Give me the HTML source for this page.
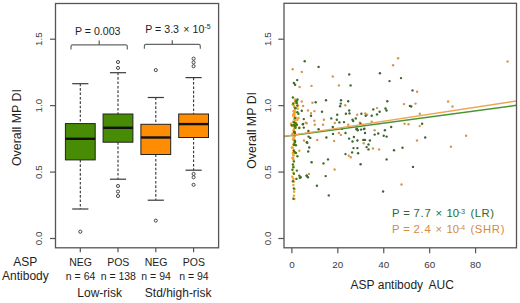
<!DOCTYPE html>
<html><head><meta charset="utf-8"><style>
html,body{margin:0;padding:0;background:#fff;}
body{width:520px;height:303px;overflow:hidden;}
svg{display:block;font-family:"Liberation Sans", sans-serif;}
</style></head><body>
<svg width="520" height="303" viewBox="0 0 520 303" font-family='"Liberation Sans", sans-serif'>
<rect x="55.5" y="3.5" width="163.10" height="244.30" fill="none" stroke="#555" stroke-width="1.3"/>
<line x1="50" y1="238.50" x2="55.5" y2="238.50" stroke="#555" stroke-width="1.2"/>
<text x="0" y="0" transform="translate(41.6,238.50) rotate(-90)" text-anchor="middle" font-size="9.9" fill="#3a3a3a">0.0</text>
<line x1="50" y1="172.07" x2="55.5" y2="172.07" stroke="#555" stroke-width="1.2"/>
<text x="0" y="0" transform="translate(41.6,172.07) rotate(-90)" text-anchor="middle" font-size="9.9" fill="#3a3a3a">0.5</text>
<line x1="50" y1="105.63" x2="55.5" y2="105.63" stroke="#555" stroke-width="1.2"/>
<text x="0" y="0" transform="translate(41.6,105.63) rotate(-90)" text-anchor="middle" font-size="9.9" fill="#3a3a3a">1.0</text>
<line x1="50" y1="39.20" x2="55.5" y2="39.20" stroke="#555" stroke-width="1.2"/>
<text x="0" y="0" transform="translate(41.6,39.20) rotate(-90)" text-anchor="middle" font-size="9.9" fill="#3a3a3a">1.5</text>
<text transform="translate(21.4,127.6) rotate(-90)" text-anchor="middle" font-size="12.4" fill="#1e1e1e">Overall MP DI</text>
<line x1="80.3" y1="83.7" x2="80.3" y2="123.6" stroke="#333" stroke-width="1.1" stroke-dasharray="2.6 1.8"/>
<line x1="80.3" y1="159.9" x2="80.3" y2="209.0" stroke="#333" stroke-width="1.1" stroke-dasharray="2.6 1.8"/>
<line x1="72.2" y1="83.7" x2="88.39999999999999" y2="83.7" stroke="#3a3a3a" stroke-width="1.2"/>
<line x1="72.2" y1="209.0" x2="88.39999999999999" y2="209.0" stroke="#3a3a3a" stroke-width="1.2"/>
<rect x="65.40" y="123.6" width="29.8" height="36.30" fill="#478c04" stroke="#222" stroke-width="1.0"/>
<line x1="65.40" y1="138.8" x2="95.20" y2="138.8" stroke="#111" stroke-width="2.4"/>
<circle cx="80.3" cy="231.7" r="1.55" fill="none" stroke="#333" stroke-width="0.9"/>
<line x1="118.0" y1="72.7" x2="118.0" y2="114.0" stroke="#333" stroke-width="1.1" stroke-dasharray="2.6 1.8"/>
<line x1="118.0" y1="142.2" x2="118.0" y2="179.2" stroke="#333" stroke-width="1.1" stroke-dasharray="2.6 1.8"/>
<line x1="109.9" y1="72.7" x2="126.1" y2="72.7" stroke="#3a3a3a" stroke-width="1.2"/>
<line x1="109.9" y1="179.2" x2="126.1" y2="179.2" stroke="#3a3a3a" stroke-width="1.2"/>
<rect x="103.10" y="114.0" width="29.8" height="28.20" fill="#478c04" stroke="#222" stroke-width="1.0"/>
<line x1="103.10" y1="127.8" x2="132.90" y2="127.8" stroke="#111" stroke-width="2.4"/>
<circle cx="118.0" cy="62.0" r="1.55" fill="none" stroke="#333" stroke-width="0.9"/>
<circle cx="118.0" cy="67.9" r="1.55" fill="none" stroke="#333" stroke-width="0.9"/>
<circle cx="118.0" cy="186.0" r="1.55" fill="none" stroke="#333" stroke-width="0.9"/>
<circle cx="118.0" cy="191.6" r="1.55" fill="none" stroke="#333" stroke-width="0.9"/>
<circle cx="118.0" cy="196.0" r="1.55" fill="none" stroke="#333" stroke-width="0.9"/>
<line x1="155.8" y1="97.5" x2="155.8" y2="124.3" stroke="#333" stroke-width="1.1" stroke-dasharray="2.6 1.8"/>
<line x1="155.8" y1="154.5" x2="155.8" y2="200.2" stroke="#333" stroke-width="1.1" stroke-dasharray="2.6 1.8"/>
<line x1="147.70000000000002" y1="97.5" x2="163.9" y2="97.5" stroke="#3a3a3a" stroke-width="1.2"/>
<line x1="147.70000000000002" y1="200.2" x2="163.9" y2="200.2" stroke="#3a3a3a" stroke-width="1.2"/>
<rect x="140.90" y="124.3" width="29.8" height="30.20" fill="#ff8d04" stroke="#222" stroke-width="1.0"/>
<line x1="140.90" y1="137.5" x2="170.70" y2="137.5" stroke="#111" stroke-width="2.4"/>
<circle cx="155.8" cy="70.1" r="1.55" fill="none" stroke="#333" stroke-width="0.9"/>
<circle cx="155.8" cy="220.6" r="1.55" fill="none" stroke="#333" stroke-width="0.9"/>
<line x1="193.6" y1="77.6" x2="193.6" y2="114.0" stroke="#333" stroke-width="1.1" stroke-dasharray="2.6 1.8"/>
<line x1="193.6" y1="137.5" x2="193.6" y2="170.2" stroke="#333" stroke-width="1.1" stroke-dasharray="2.6 1.8"/>
<line x1="185.5" y1="77.6" x2="201.7" y2="77.6" stroke="#3a3a3a" stroke-width="1.2"/>
<line x1="185.5" y1="170.2" x2="201.7" y2="170.2" stroke="#3a3a3a" stroke-width="1.2"/>
<rect x="178.70" y="114.0" width="29.8" height="23.50" fill="#ff8d04" stroke="#222" stroke-width="1.0"/>
<line x1="178.70" y1="124.1" x2="208.50" y2="124.1" stroke="#111" stroke-width="2.4"/>
<circle cx="193.6" cy="58.6" r="1.55" fill="none" stroke="#333" stroke-width="0.9"/>
<circle cx="193.6" cy="62.4" r="1.55" fill="none" stroke="#333" stroke-width="0.9"/>
<circle cx="193.6" cy="66.2" r="1.55" fill="none" stroke="#333" stroke-width="0.9"/>
<circle cx="193.6" cy="173.9" r="1.55" fill="none" stroke="#333" stroke-width="0.9"/>
<circle cx="193.6" cy="177.3" r="1.55" fill="none" stroke="#333" stroke-width="0.9"/>
<circle cx="193.6" cy="184.8" r="1.55" fill="none" stroke="#333" stroke-width="0.9"/>
<path d="M71.0,49.5 L71.0,46.5 Q71.0,44.9 72.6,44.9 L125.7,44.9 Q127.3,44.9 127.3,46.5 L127.3,49.5" fill="none" stroke="#666" stroke-width="1.2"/><line x1="99.2" y1="44.9" x2="99.2" y2="40.6" stroke="#666" stroke-width="1.3"/>
<path d="M144.4,48.7 L144.4,45.9 Q144.4,44.3 146.0,44.3 L198.70000000000002,44.3 Q200.3,44.3 200.3,45.9 L200.3,48.7" fill="none" stroke="#666" stroke-width="1.2"/><line x1="172.3" y1="44.3" x2="172.3" y2="40.3" stroke="#666" stroke-width="1.3"/>
<text x="75" y="34.6" font-size="10.6" fill="#1e1e1e">P = 0.003</text>
<g font-size="10.6" fill="#1e1e1e"><text x="145.3" y="32.6">P = 3.3</text><text x="183.3" y="32.6">&#215;</text><text x="192.6" y="32.6">10</text><text x="204.4" y="29.4" font-size="6.9">-5</text></g>
<line x1="80.3" y1="247.8" x2="80.3" y2="252.2" stroke="#555" stroke-width="1.2"/>
<text x="80.6" y="265.7" text-anchor="middle" font-size="10.5" fill="#1e1e1e">NEG</text>
<text x="80.6" y="280" text-anchor="middle" font-size="10.5" fill="#1e1e1e">n = 64</text>
<line x1="118.0" y1="247.8" x2="118.0" y2="252.2" stroke="#555" stroke-width="1.2"/>
<text x="118.3" y="265.7" text-anchor="middle" font-size="10.5" fill="#1e1e1e">POS</text>
<text x="118.3" y="280" text-anchor="middle" font-size="10.5" fill="#1e1e1e">n = 138</text>
<line x1="155.8" y1="247.8" x2="155.8" y2="252.2" stroke="#555" stroke-width="1.2"/>
<text x="156.10000000000002" y="265.7" text-anchor="middle" font-size="10.5" fill="#1e1e1e">NEG</text>
<text x="156.10000000000002" y="280" text-anchor="middle" font-size="10.5" fill="#1e1e1e">n = 94</text>
<line x1="193.6" y1="247.8" x2="193.6" y2="252.2" stroke="#555" stroke-width="1.2"/>
<text x="193.9" y="265.7" text-anchor="middle" font-size="10.5" fill="#1e1e1e">POS</text>
<text x="193.9" y="280" text-anchor="middle" font-size="10.5" fill="#1e1e1e">n = 94</text>
<text x="99.7" y="296.7" text-anchor="middle" font-size="12" fill="#1e1e1e">Low-risk</text>
<text x="178.2" y="296.7" text-anchor="middle" font-size="12" fill="#1e1e1e">Std/high-risk</text>
<text x="25.2" y="265.5" text-anchor="middle" font-size="12" fill="#1e1e1e">ASP</text>
<text x="25.4" y="280" text-anchor="middle" font-size="12" fill="#1e1e1e">Antibody</text>
<g fill="#f0a035"><circle cx="295.1" cy="99.6" r="1.25"/><circle cx="295.1" cy="100.8" r="1.25"/><circle cx="296.0" cy="102.0" r="1.25"/><circle cx="295.6" cy="103.1" r="1.25"/><circle cx="292.6" cy="104.6" r="1.25"/><circle cx="298.0" cy="105.8" r="1.25"/><circle cx="294.1" cy="107.0" r="1.25"/><circle cx="297.6" cy="108.7" r="1.25"/><circle cx="294.7" cy="109.7" r="1.25"/><circle cx="293.7" cy="111.3" r="1.25"/><circle cx="295.3" cy="112.3" r="1.25"/><circle cx="294.3" cy="113.9" r="1.25"/><circle cx="293.5" cy="115.4" r="1.25"/><circle cx="293.5" cy="116.1" r="1.25"/><circle cx="298.5" cy="117.9" r="1.25"/><circle cx="294.4" cy="119.2" r="1.25"/><circle cx="295.2" cy="120.5" r="1.25"/><circle cx="293.3" cy="121.7" r="1.25"/><circle cx="296.1" cy="122.9" r="1.25"/><circle cx="291.0" cy="123.8" r="1.25"/><circle cx="291.9" cy="125.7" r="1.25"/><circle cx="293.7" cy="126.6" r="1.25"/><circle cx="295.4" cy="127.5" r="1.25"/><circle cx="294.1" cy="129.0" r="1.25"/><circle cx="293.5" cy="130.5" r="1.25"/><circle cx="294.3" cy="131.3" r="1.25"/><circle cx="294.4" cy="132.3" r="1.25"/><circle cx="292.5" cy="133.6" r="1.25"/><circle cx="292.9" cy="135.4" r="1.25"/><circle cx="294.7" cy="136.2" r="1.25"/><circle cx="293.7" cy="137.7" r="1.25"/><circle cx="293.5" cy="138.9" r="1.25"/><circle cx="293.0" cy="139.5" r="1.25"/><circle cx="294.4" cy="140.6" r="1.25"/><circle cx="294.4" cy="141.8" r="1.25"/><circle cx="294.2" cy="143.0" r="1.25"/><circle cx="293.4" cy="144.4" r="1.25"/><circle cx="294.5" cy="145.0" r="1.25"/><circle cx="291.9" cy="147.6" r="1.25"/><circle cx="293.6" cy="150.2" r="1.25"/><circle cx="293.5" cy="152.8" r="1.25"/><circle cx="293.6" cy="155.4" r="1.25"/><circle cx="293.1" cy="158.0" r="1.25"/><circle cx="293.3" cy="165.8" r="1.25"/><circle cx="293.4" cy="178.8" r="1.25"/><circle cx="293.9" cy="181.4" r="1.25"/><circle cx="294.3" cy="189.2" r="1.25"/><circle cx="294.1" cy="191.8" r="1.25"/><circle cx="299.2" cy="127.6" r="1.25"/><circle cx="293.9" cy="105.4" r="1.25"/><circle cx="293.9" cy="111.3" r="1.25"/><circle cx="294.9" cy="112.3" r="1.25"/><circle cx="293.4" cy="114.3" r="1.25"/><circle cx="294.4" cy="115.8" r="1.25"/><circle cx="295.9" cy="117.8" r="1.25"/><circle cx="297.4" cy="119.8" r="1.25"/><circle cx="292.9" cy="147.8" r="1.25"/><circle cx="299.3" cy="150.7" r="1.25"/><circle cx="292.9" cy="153.0" r="1.25"/><circle cx="293.4" cy="155.0" r="1.25"/><circle cx="292.4" cy="158.0" r="1.25"/><circle cx="293.4" cy="159.4" r="1.25"/><circle cx="293.4" cy="172.8" r="1.25"/><circle cx="292.4" cy="176.8" r="1.25"/><circle cx="293.4" cy="185.0" r="1.25"/><circle cx="293.9" cy="195.8" r="1.25"/><circle cx="294.3" cy="198.9" r="1.25"/></g>
<g fill="#d6964e"><circle cx="292.7" cy="69.3" r="1.2"/><circle cx="301.8" cy="71.9" r="1.2"/><circle cx="332.8" cy="76.5" r="1.2"/><circle cx="299.6" cy="87.0" r="1.2"/><circle cx="311.5" cy="85.9" r="1.2"/><circle cx="338.9" cy="85.4" r="1.2"/><circle cx="398.1" cy="58.3" r="1.2"/><circle cx="393.1" cy="65.2" r="1.2"/><circle cx="417.1" cy="91.7" r="1.2"/><circle cx="507.6" cy="61.5" r="1.2"/><circle cx="301.8" cy="101.5" r="1.2"/><circle cx="303.1" cy="105.9" r="1.2"/><circle cx="312.4" cy="102.8" r="1.2"/><circle cx="308.0" cy="110.5" r="1.2"/><circle cx="314.4" cy="111.1" r="1.2"/><circle cx="311.0" cy="113.1" r="1.2"/><circle cx="314.4" cy="120.8" r="1.2"/><circle cx="323.9" cy="119.7" r="1.2"/><circle cx="306.7" cy="123.3" r="1.2"/><circle cx="314.8" cy="124.7" r="1.2"/><circle cx="323.0" cy="124.7" r="1.2"/><circle cx="334.8" cy="123.0" r="1.2"/><circle cx="345.3" cy="105.2" r="1.2"/><circle cx="377.0" cy="108.1" r="1.2"/><circle cx="357.2" cy="114.7" r="1.2"/><circle cx="365.3" cy="113.4" r="1.2"/><circle cx="367.1" cy="114.7" r="1.2"/><circle cx="359.8" cy="122.6" r="1.2"/><circle cx="371.7" cy="121.7" r="1.2"/><circle cx="348.2" cy="124.7" r="1.2"/><circle cx="374.6" cy="130.3" r="1.2"/><circle cx="403.9" cy="104.1" r="1.2"/><circle cx="415.5" cy="103.6" r="1.2"/><circle cx="448.1" cy="101.5" r="1.2"/><circle cx="452.5" cy="106.5" r="1.2"/><circle cx="419.8" cy="113.8" r="1.2"/><circle cx="404.6" cy="123.7" r="1.2"/><circle cx="408.5" cy="124.3" r="1.2"/><circle cx="419.8" cy="126.1" r="1.2"/><circle cx="304.0" cy="140.5" r="1.2"/><circle cx="317.2" cy="139.9" r="1.2"/><circle cx="338.9" cy="133.0" r="1.2"/><circle cx="340.9" cy="134.9" r="1.2"/><circle cx="334.1" cy="140.9" r="1.2"/><circle cx="348.8" cy="155.7" r="1.2"/><circle cx="350.8" cy="157.3" r="1.2"/><circle cx="363.7" cy="143.2" r="1.2"/><circle cx="372.9" cy="148.5" r="1.2"/><circle cx="379.1" cy="149.4" r="1.2"/><circle cx="417.0" cy="140.5" r="1.2"/><circle cx="450.9" cy="146.7" r="1.2"/><circle cx="466.1" cy="135.7" r="1.2"/><circle cx="309.0" cy="173.9" r="1.2"/><circle cx="334.6" cy="169.5" r="1.2"/><circle cx="401.5" cy="184.5" r="1.2"/><circle cx="305.8" cy="122.7" r="1.2"/></g>
<g fill="#3f7c14"><circle cx="297.5" cy="99.5" r="1.2"/><circle cx="296.9" cy="100.7" r="1.2"/><circle cx="293.3" cy="103.5" r="1.2"/><circle cx="297.2" cy="105.5" r="1.2"/><circle cx="295.4" cy="108.1" r="1.2"/><circle cx="294.9" cy="117.9" r="1.2"/><circle cx="291.8" cy="125.3" r="1.2"/><circle cx="294.6" cy="126.1" r="1.2"/><circle cx="295.5" cy="127.7" r="1.2"/><circle cx="294.1" cy="131.9" r="1.2"/><circle cx="294.6" cy="132.3" r="1.2"/><circle cx="295.0" cy="133.7" r="1.2"/><circle cx="295.0" cy="140.8" r="1.2"/><circle cx="295.1" cy="142.0" r="1.2"/><circle cx="294.4" cy="144.4" r="1.2"/><circle cx="292.9" cy="97.5" r="1.2"/><circle cx="295.9" cy="101.4" r="1.2"/><circle cx="296.9" cy="102.9" r="1.2"/><circle cx="295.4" cy="107.9" r="1.2"/><circle cx="297.4" cy="112.3" r="1.2"/><circle cx="298.4" cy="113.8" r="1.2"/><circle cx="293.9" cy="122.2" r="1.2"/><circle cx="295.4" cy="123.2" r="1.2"/><circle cx="296.9" cy="124.7" r="1.2"/><circle cx="293.9" cy="125.0" r="1.2"/><circle cx="295.9" cy="125.5" r="1.2"/><circle cx="299.3" cy="128.0" r="1.2"/><circle cx="293.9" cy="144.8" r="1.2"/><circle cx="295.9" cy="145.3" r="1.2"/><circle cx="293.9" cy="150.7" r="1.2"/><circle cx="294.9" cy="152.2" r="1.2"/><circle cx="295.9" cy="153.0" r="1.2"/><circle cx="297.4" cy="156.2" r="1.2"/><circle cx="293.9" cy="161.4" r="1.2"/><circle cx="292.9" cy="164.4" r="1.2"/><circle cx="293.4" cy="167.3" r="1.2"/><circle cx="292.4" cy="169.8" r="1.2"/><circle cx="296.9" cy="170.6" r="1.2"/><circle cx="293.9" cy="173.8" r="1.2"/><circle cx="299.3" cy="175.6" r="1.2"/><circle cx="299.8" cy="177.7" r="1.2"/><circle cx="296.4" cy="178.9" r="1.2"/><circle cx="292.9" cy="181.2" r="1.2"/><circle cx="293.9" cy="188.4" r="1.2"/><circle cx="293.4" cy="198.8" r="1.2"/></g>
<g fill="#3d6630"><circle cx="304.7" cy="61.2" r="1.2"/><circle cx="318.6" cy="66.9" r="1.2"/><circle cx="349.2" cy="74.4" r="1.2"/><circle cx="379.9" cy="73.2" r="1.2"/><circle cx="389.5" cy="81.1" r="1.2"/><circle cx="401.0" cy="78.1" r="1.2"/><circle cx="297.2" cy="80.1" r="1.2"/><circle cx="293.9" cy="83.0" r="1.2"/><circle cx="295.1" cy="84.7" r="1.2"/><circle cx="350.6" cy="85.4" r="1.2"/><circle cx="412.5" cy="90.4" r="1.2"/><circle cx="315.7" cy="102.3" r="1.2"/><circle cx="326.0" cy="100.2" r="1.2"/><circle cx="341.0" cy="100.2" r="1.2"/><circle cx="340.8" cy="103.6" r="1.2"/><circle cx="340.1" cy="106.3" r="1.2"/><circle cx="322.0" cy="111.8" r="1.2"/><circle cx="311.0" cy="115.8" r="1.2"/><circle cx="301.8" cy="110.7" r="1.2"/><circle cx="303.8" cy="119.1" r="1.2"/><circle cx="331.3" cy="118.4" r="1.2"/><circle cx="337.2" cy="114.7" r="1.2"/><circle cx="336.8" cy="119.7" r="1.2"/><circle cx="303.1" cy="124.0" r="1.2"/><circle cx="339.4" cy="122.4" r="1.2"/><circle cx="303.8" cy="127.6" r="1.2"/><circle cx="318.6" cy="129.2" r="1.2"/><circle cx="332.8" cy="127.0" r="1.2"/><circle cx="308.4" cy="131.0" r="1.2"/><circle cx="348.2" cy="101.2" r="1.2"/><circle cx="387.3" cy="101.2" r="1.2"/><circle cx="373.3" cy="109.4" r="1.2"/><circle cx="385.5" cy="108.5" r="1.2"/><circle cx="386.5" cy="110.5" r="1.2"/><circle cx="379.6" cy="111.8" r="1.2"/><circle cx="349.2" cy="110.5" r="1.2"/><circle cx="345.9" cy="113.8" r="1.2"/><circle cx="349.5" cy="113.4" r="1.2"/><circle cx="361.4" cy="113.8" r="1.2"/><circle cx="365.7" cy="115.8" r="1.2"/><circle cx="371.7" cy="115.8" r="1.2"/><circle cx="377.0" cy="114.4" r="1.2"/><circle cx="352.5" cy="119.7" r="1.2"/><circle cx="353.2" cy="121.0" r="1.2"/><circle cx="355.8" cy="118.4" r="1.2"/><circle cx="360.5" cy="123.7" r="1.2"/><circle cx="344.0" cy="122.1" r="1.2"/><circle cx="356.5" cy="129.2" r="1.2"/><circle cx="357.8" cy="130.3" r="1.2"/><circle cx="361.1" cy="129.6" r="1.2"/><circle cx="364.4" cy="128.7" r="1.2"/><circle cx="384.9" cy="130.3" r="1.2"/><circle cx="391.2" cy="127.0" r="1.2"/><circle cx="342.0" cy="128.7" r="1.2"/><circle cx="409.9" cy="105.9" r="1.2"/><circle cx="411.2" cy="106.5" r="1.2"/><circle cx="422.1" cy="123.7" r="1.2"/><circle cx="308.6" cy="136.6" r="1.2"/><circle cx="310.3" cy="137.9" r="1.2"/><circle cx="326.4" cy="137.5" r="1.2"/><circle cx="333.0" cy="133.9" r="1.2"/><circle cx="345.5" cy="133.0" r="1.2"/><circle cx="349.1" cy="138.6" r="1.2"/><circle cx="353.9" cy="137.0" r="1.2"/><circle cx="352.5" cy="141.5" r="1.2"/><circle cx="357.4" cy="140.5" r="1.2"/><circle cx="307.3" cy="142.8" r="1.2"/><circle cx="309.2" cy="147.5" r="1.2"/><circle cx="308.2" cy="151.5" r="1.2"/><circle cx="353.5" cy="148.1" r="1.2"/><circle cx="357.4" cy="148.1" r="1.2"/><circle cx="352.1" cy="152.4" r="1.2"/><circle cx="358.1" cy="153.3" r="1.2"/><circle cx="345.5" cy="154.1" r="1.2"/><circle cx="328.0" cy="159.4" r="1.2"/><circle cx="311.6" cy="162.3" r="1.2"/><circle cx="323.5" cy="163.4" r="1.2"/><circle cx="356.8" cy="128.7" r="1.2"/><circle cx="363.9" cy="129.1" r="1.2"/><circle cx="365.0" cy="133.0" r="1.2"/><circle cx="374.7" cy="134.6" r="1.2"/><circle cx="378.2" cy="133.5" r="1.2"/><circle cx="383.7" cy="135.7" r="1.2"/><circle cx="386.6" cy="136.6" r="1.2"/><circle cx="363.3" cy="139.9" r="1.2"/><circle cx="365.0" cy="139.9" r="1.2"/><circle cx="369.9" cy="140.5" r="1.2"/><circle cx="368.5" cy="144.5" r="1.2"/><circle cx="366.6" cy="147.1" r="1.2"/><circle cx="368.5" cy="149.4" r="1.2"/><circle cx="394.0" cy="150.2" r="1.2"/><circle cx="402.5" cy="147.8" r="1.2"/><circle cx="386.6" cy="159.4" r="1.2"/><circle cx="360.6" cy="164.3" r="1.2"/><circle cx="413.0" cy="166.9" r="1.2"/><circle cx="425.2" cy="137.5" r="1.2"/><circle cx="300.7" cy="177.2" r="1.2"/><circle cx="306.6" cy="175.6" r="1.2"/><circle cx="307.9" cy="177.2" r="1.2"/><circle cx="325.7" cy="176.1" r="1.2"/><circle cx="316.9" cy="185.8" r="1.2"/><circle cx="328.8" cy="195.4" r="1.2"/><circle cx="383.1" cy="191.5" r="1.2"/><circle cx="302.8" cy="124.2" r="1.2"/><circle cx="306.8" cy="142.3" r="1.2"/><circle cx="306.8" cy="175.8" r="1.2"/></g>
<clipPath id="rc"><rect x="284.0" y="3.3" width="232.50" height="244.50"/></clipPath>
<g clip-path="url(#rc)"><line x1="284.0" y1="136.6" x2="516.5" y2="105.3" stroke="#4b9436" stroke-width="1.45"/><line x1="284.0" y1="136.4" x2="516.5" y2="101.0" stroke="#eda552" stroke-width="1.45"/></g>
<rect x="284.0" y="3.3" width="232.50" height="244.50" fill="none" stroke="#555" stroke-width="1.3"/>
<line x1="278.3" y1="238.50" x2="284.0" y2="238.50" stroke="#555" stroke-width="1.2"/>
<text transform="translate(270.6,238.50) rotate(-90)" text-anchor="middle" font-size="9.9" fill="#3a3a3a">0.0</text>
<line x1="278.3" y1="172.07" x2="284.0" y2="172.07" stroke="#555" stroke-width="1.2"/>
<text transform="translate(270.6,172.07) rotate(-90)" text-anchor="middle" font-size="9.9" fill="#3a3a3a">0.5</text>
<line x1="278.3" y1="105.63" x2="284.0" y2="105.63" stroke="#555" stroke-width="1.2"/>
<text transform="translate(270.6,105.63) rotate(-90)" text-anchor="middle" font-size="9.9" fill="#3a3a3a">1.0</text>
<line x1="278.3" y1="39.20" x2="284.0" y2="39.20" stroke="#555" stroke-width="1.2"/>
<text transform="translate(270.6,39.20) rotate(-90)" text-anchor="middle" font-size="9.9" fill="#3a3a3a">1.5</text>
<text transform="translate(256.0,130.4) rotate(-90)" text-anchor="middle" font-size="12.4" fill="#1e1e1e">Overall MP DI</text>
<line x1="291.90" y1="247.8" x2="291.90" y2="253.3" stroke="#555" stroke-width="1.2"/>
<text x="291.90" y="268.1" text-anchor="middle" font-size="9.9" fill="#3a3a3a">0</text>
<line x1="337.82" y1="247.8" x2="337.82" y2="253.3" stroke="#555" stroke-width="1.2"/>
<text x="337.82" y="268.1" text-anchor="middle" font-size="9.9" fill="#3a3a3a">20</text>
<line x1="383.75" y1="247.8" x2="383.75" y2="253.3" stroke="#555" stroke-width="1.2"/>
<text x="383.75" y="268.1" text-anchor="middle" font-size="9.9" fill="#3a3a3a">40</text>
<line x1="429.68" y1="247.8" x2="429.68" y2="253.3" stroke="#555" stroke-width="1.2"/>
<text x="429.68" y="268.1" text-anchor="middle" font-size="9.9" fill="#3a3a3a">60</text>
<line x1="475.60" y1="247.8" x2="475.60" y2="253.3" stroke="#555" stroke-width="1.2"/>
<text x="475.60" y="268.1" text-anchor="middle" font-size="9.9" fill="#3a3a3a">80</text>
<g font-size="12" fill="#1e1e1e"><text x="350.6" y="289">ASP antibody</text><text x="428.6" y="289">AUC</text></g>
<g font-size="11.3" fill="#2c6a2c"><text x="391.97" y="217.4">P</text><text x="403.35" y="217.4">=</text><text x="413.42" y="217.4" textLength="17.4" lengthAdjust="spacing">7.7</text><text x="435.42" y="217.4">&#215;</text><text x="446.54" y="217.4">10</text><text x="458.59" y="214.30" font-size="7.4">-3</text><text x="470.40" y="217.4" textLength="23.6" lengthAdjust="spacing">(LR)</text></g>
<g font-size="11.3" fill="#d58a3c"><text x="391.97" y="232.6">P</text><text x="403.35" y="232.6">=</text><text x="413.42" y="232.6" textLength="17.4" lengthAdjust="spacing">2.4</text><text x="435.42" y="232.6">&#215;</text><text x="446.54" y="232.6">10</text><text x="458.59" y="229.50" font-size="7.4">-4</text><text x="470.40" y="232.6" textLength="34.0" lengthAdjust="spacing">(SHR)</text></g>
</svg>
</body></html>
